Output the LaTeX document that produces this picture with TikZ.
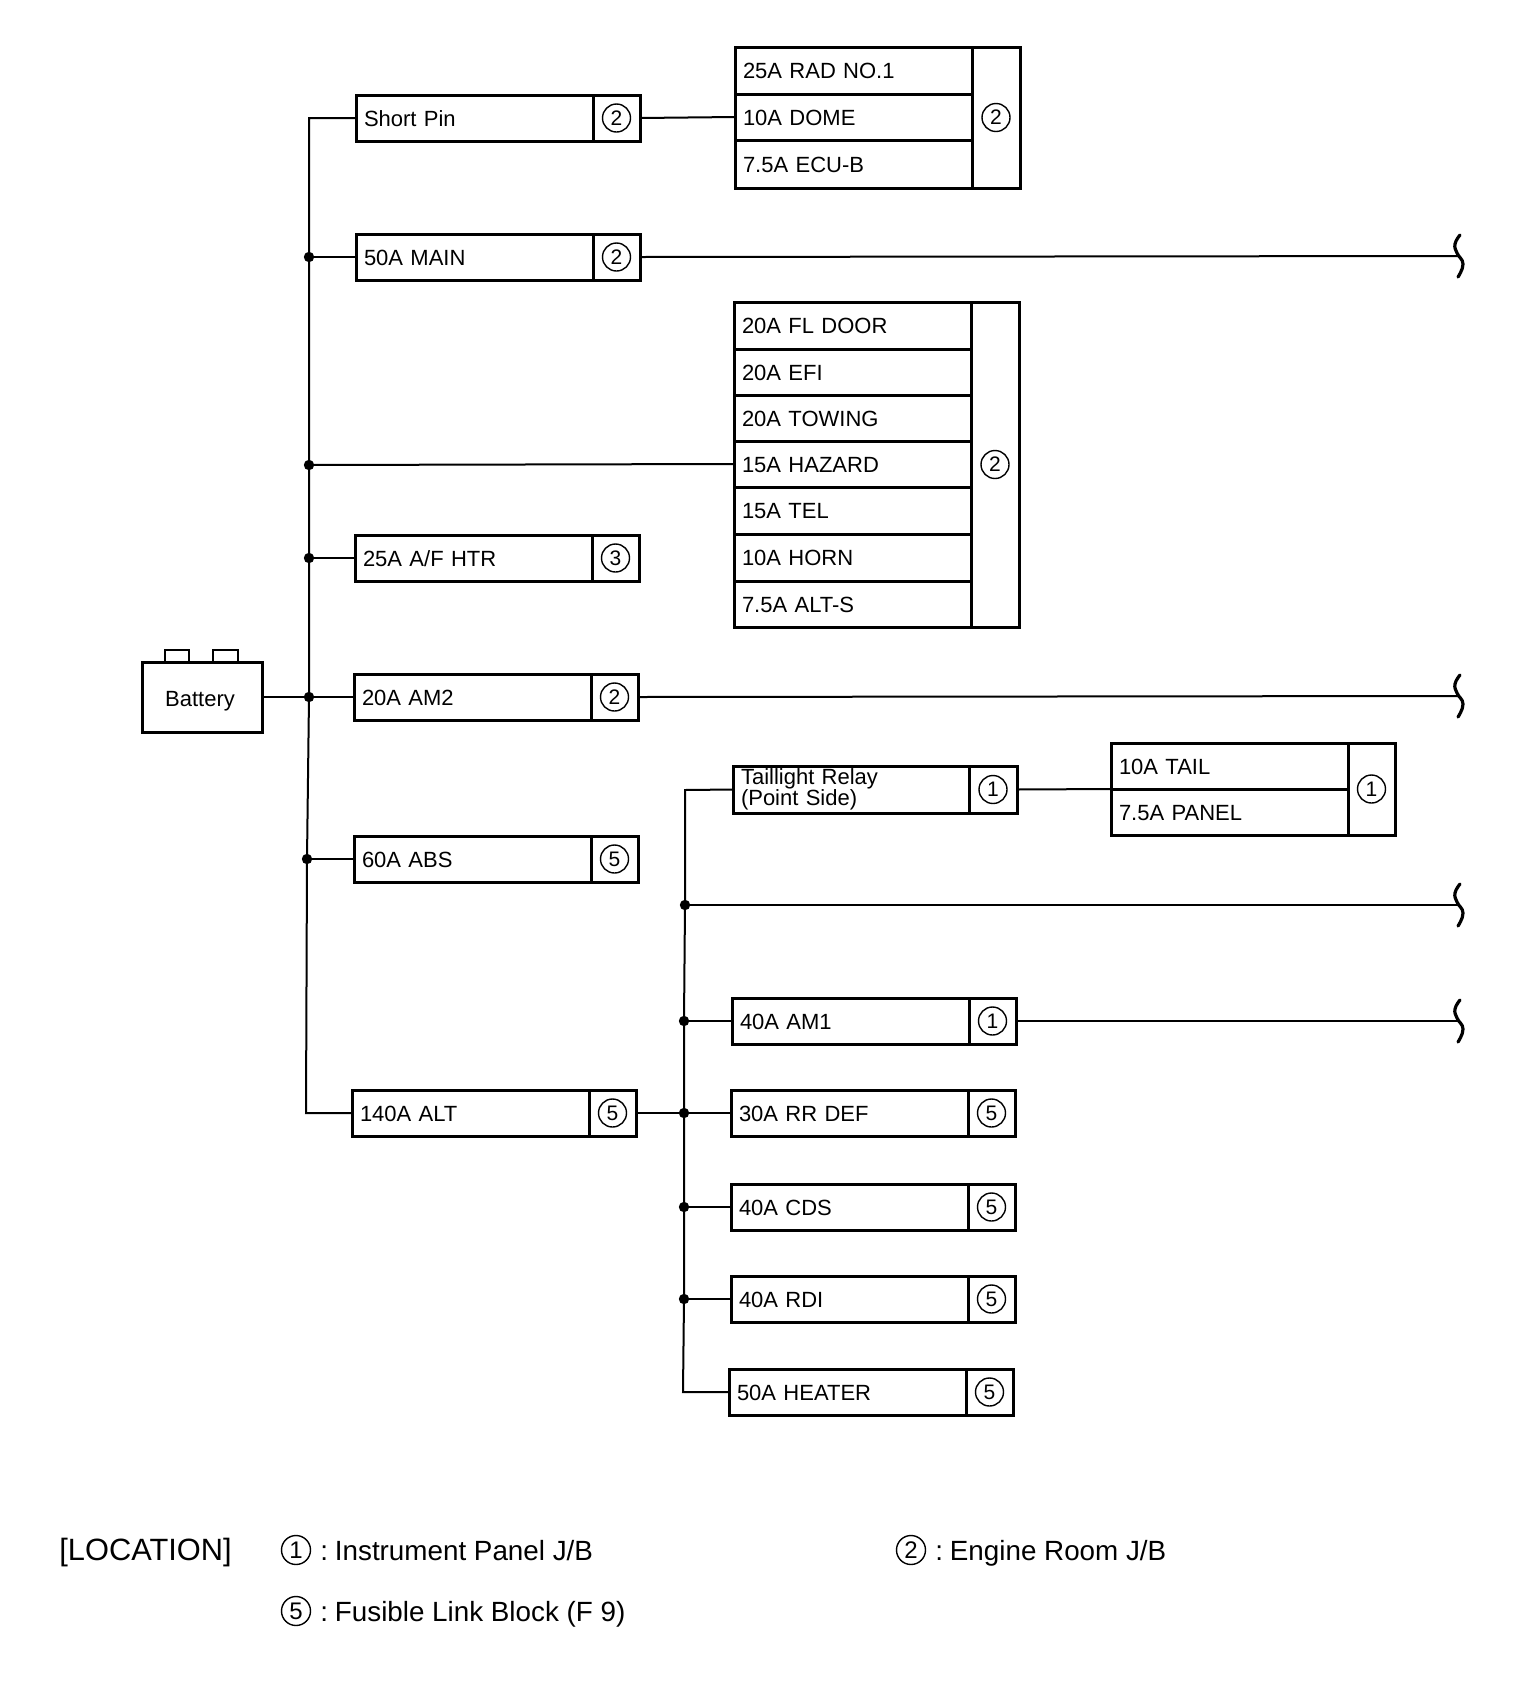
\documentclass[tikz,border=0pt]{standalone}
\usepackage{fontspec}
\setmainfont{Liberation Sans}
\tikzset{
  x=0.5pt,y=-0.5pt,
  cellbox/.style={draw,line width=1.5pt,anchor=north west,inner xsep=4pt,inner ysep=0pt,outer sep=0pt,align=left,font=\fontsize{11}{11}\selectfont,text height=8pt,text depth=0pt},
  numcell/.style={draw,line width=1.5pt,anchor=north west,inner sep=0pt,outer sep=0pt},
  numring/.style={draw,circle,line width=0.7pt,minimum size=14pt,inner sep=0pt,font=\fontsize{10.5}{10.5}\selectfont},
  wire/.style={line width=1pt},
  junction/.style={circle,fill=black,inner sep=0pt,minimum size=5.2pt,outer sep=0pt},
  tick/.style={line width=1.6pt,line cap=round},
  legendtext/.style={anchor=base west,inner sep=0pt,font=\fontsize{13.9}{14}\selectfont},
  legendring/.style={numring,minimum size=14.5pt,font=\fontsize{12}{12}\selectfont},
}
\newcommand{\labcell}[6]{% id,x1,y1,x2,y2,text
  \pgfmathsetmacro\cw{(#4-#2)*0.5}\pgfmathsetmacro\ch{(#5-#3)*0.5}
  \node[cellbox,minimum width=\cw pt,minimum height=\ch pt,text width=\cw pt-8pt] (#1) at (#2,#3) {#6};}
\newcommand{\sidecell}[6]{% id,x1,y1,x2,y2,num
  \pgfmathsetmacro\cw{(#4-#2)*0.5}\pgfmathsetmacro\ch{(#5-#3)*0.5}
  \node[numcell,minimum width=\cw pt,minimum height=\ch pt] (#1) at (#2,#3) {};
  \node[numring] (#1-n) at (#1.center) {#6};}
\newcommand{\fuse}[5]{% id,left,cy,text,num
  \pgfmathsetmacro\xa{#2+237}\pgfmathsetmacro\xb{#2+284}
  \pgfmathsetmacro\ya{#3-23}\pgfmathsetmacro\yb{#3+23}
  \labcell{#1}{#2}{\ya}{\xa}{\yb}{#4}
  \sidecell{#1-c}{\xa}{\ya}{\xb}{\yb}{#5}}
\newcommand{\squig}[1]{%
  \draw[tick,shift={(#1)}] plot[smooth,tension=0.8] coordinates {(2,-21) (-3,-12) (-1,-3) (5,8) (0,21)};}
\begin{document}
\begin{tikzpicture}
\useasboundingbox (0,0) rectangle (1536,1682);
% battery
\node[numcell,minimum width=60pt,minimum height=35pt] (battery) at (142,662) {};
\node[font=\fontsize{11}{11}\selectfont,inner sep=0pt] (batlabel) at (200,701) {Battery};
\node[numcell,line width=1.2pt,minimum width=12pt,minimum height=6pt] (termA) at (165,650) {};
\node[numcell,line width=1.2pt,minimum width=12.5pt,minimum height=6pt] (termB) at (213,650) {};
% single fuses
\fuse{shortpin}{356}{118}{Short Pin}{2}
\fuse{main}{356}{257}{50A MAIN}{2}
\fuse{afhtr}{355}{558}{25A A/F HTR}{3}
\fuse{amtwo}{354}{697}{20A AM2}{2}
\fuse{abs}{354}{859}{60A ABS}{5}
\fuse{alt}{352}{1113}{140A ALT}{5}
\fuse{amone}{732}{1021}{40A AM1}{1}
\fuse{rrdef}{731}{1113}{30A RR DEF}{5}
\fuse{cds}{731}{1207}{40A CDS}{5}
\fuse{rdi}{731}{1299}{40A RDI}{5}
\fuse{heater}{729}{1392}{50A HEATER}{5}
% taillight relay
\node[numcell,minimum width=118pt,minimum height=23.5pt,text width=110pt,inner xsep=4pt,align=left,font=\fontsize{11}{10}\selectfont] (relay) at (733,766) {Taillight Relay\\[-1pt](Point Side)};
\sidecell{relay-c}{969}{766}{1017}{813}{1}
% top block
\labcell{rad}{735}{47}{972}{94}{25A RAD NO.1}
\labcell{dome}{735}{94}{972}{140}{10A DOME}
\labcell{ecu}{735}{140}{972}{188}{7.5A ECU-B}
\sidecell{topside}{972}{47}{1020}{188}{2}
% middle block
\labcell{fldoor}{734}{302}{971}{349}{20A FL DOOR}
\labcell{efi}{734}{349}{971}{395}{20A EFI}
\labcell{towing}{734}{395}{971}{441}{20A TOWING}
\labcell{hazard}{734}{441}{971}{487}{15A HAZARD}
\labcell{tel}{734}{487}{971}{534}{15A TEL}
\labcell{horn}{734}{534}{971}{581}{10A HORN}
\labcell{alts}{734}{581}{971}{627}{7.5A ALT-S}
\sidecell{midside}{971}{302}{1019}{627}{2}
% tail block
\labcell{tail}{1111}{743}{1348}{789}{10A TAIL}
\labcell{panel}{1111}{789}{1348}{835}{7.5A PANEL}
\sidecell{tailside}{1348}{743}{1395}{835}{1}
% bus one
\coordinate (busAtop) at (309,118);
\coordinate (busAbot) at (306,1113);
\node[junction] (jmain) at (309,257) {};
\node[junction] (jhaz) at (309,465) {};
\node[junction] (jaf) at (309,558) {};
\node[junction] (jam) at (309,697) {};
\node[junction] (jabs) at (307,859) {};
\draw[wire] (shortpin.west) -- (busAtop) -- (jmain.center) -- (jhaz.center) -- (jaf.center) -- (jam.center) -- (jabs.center) -- (busAbot) -- (alt.west);
\draw[wire] (jmain) -- (main.west);
\draw[wire] (jhaz) -- (hazard.west);
\draw[wire] (jaf) -- (afhtr.west);
\draw[wire] (battery.east) -- (jam);
\draw[wire] (jam) -- (amtwo.west);
\draw[wire] (jabs) -- (abs.west);
\draw[wire] (shortpin-c.east) -- (dome.west);
% bus two
\coordinate (busBtop) at (685,790);
\coordinate (busBbot) at (683,1392);
\node[junction] (jfree) at (685,905) {};
\node[junction] (jone) at (684,1021) {};
\node[junction] (jalt) at (684,1113) {};
\node[junction] (jcds) at (684,1207) {};
\node[junction] (jrdi) at (684,1299) {};
\draw[wire] (relay.west) -- (busBtop) -- (jfree.center) -- (jone.center) -- (jalt.center) -- (jcds.center) -- (jrdi.center) -- (busBbot) -- (heater.west);
\draw[wire] (jone) -- (amone.west);
\draw[wire] (alt-c.east) -- (jalt);
\draw[wire] (jalt) -- (rrdef.west);
\draw[wire] (jcds) -- (cds.west);
\draw[wire] (jrdi) -- (rdi.west);
\draw[wire] (relay-c.east) -- (tail.south west);
% cut-off lines
\coordinate (cutA) at (1458,256);
\coordinate (cutB) at (1458,696);
\coordinate (cutC) at (1458,905);
\coordinate (cutD) at (1458,1021);
\draw[wire] (main-c.east) -- (cutA);
\draw[wire] (amtwo-c.east) -- (cutB);
\draw[wire] (jfree) -- (cutC);
\draw[wire] (amone-c.east) -- (cutD);
\squig{cutA}\squig{cutB}\squig{cutC}\squig{cutD}
% legend
\node[legendtext,font=\fontsize{15.4}{15}\selectfont] (loctitle) at (59,1560) {[LOCATION]};
\node[legendring] (lgone) at (296,1550) {1};
\node[legendtext] (lgonet) at (320,1560) {:\hspace{3.4pt}Instrument Panel J/B};
\node[legendring] (lgtwo) at (911,1550) {2};
\node[legendtext] (lgtwot) at (935,1560) {:\hspace{3.4pt}Engine Room J/B};
\node[legendring] (lgfive) at (296,1611) {5};
\node[legendtext] (lgfivet) at (320,1621) {:\hspace{3.4pt}Fusible Link Block (F 9)};
\end{tikzpicture}
\end{document}
